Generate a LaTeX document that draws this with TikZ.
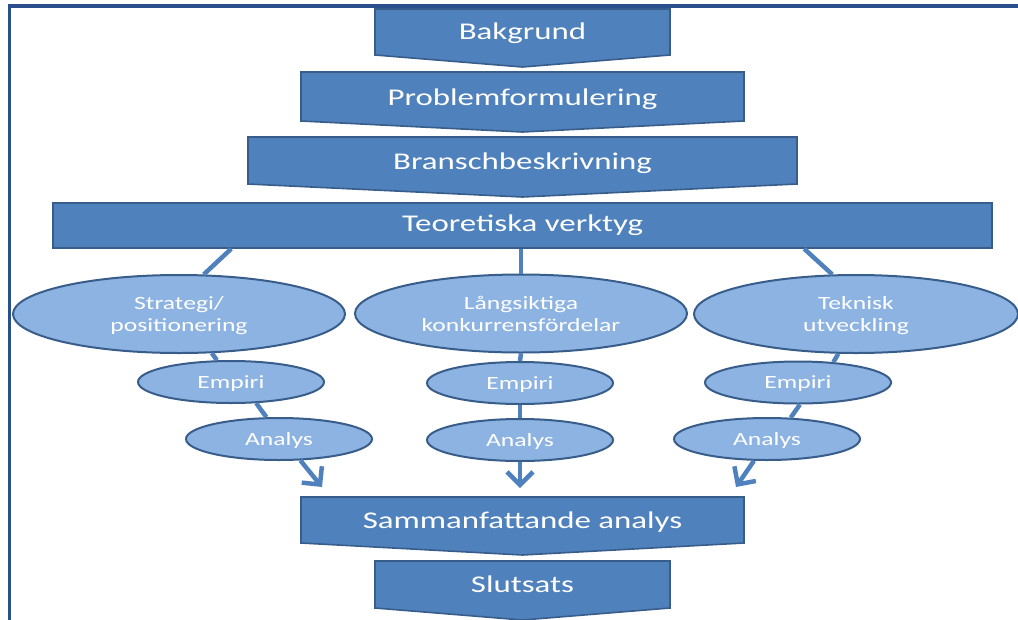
\documentclass[tikz,border=0pt]{standalone}
\usepackage{fontspec}
\setmainfont{Carlito}[FakeStretch=1.37]
\usetikzlibrary{arrows.meta,shapes.geometric}

\definecolor{boxfill}{HTML}{4F81BD}
\definecolor{boxedge}{HTML}{385D8A}
\definecolor{ovalfill}{HTML}{8DB3E2}
\definecolor{ovaledge}{HTML}{385D8A}
\definecolor{framecol}{HTML}{2A4F8C}

% chevron box: name, left x, right x, top y, side bottom y, tip y, text baseline y, text
\newcommand{\chevbox}[8]{%
  \filldraw[chevshape] (#2,#4) -- (#3,#4) -- (#3,#5) -- ({(#2+#3)/2},#6) -- (#2,#5) -- cycle;
  \node[boxtext,anchor=base] (#1) at ({(#2+#3)/2},#7) {#8};
}

\begin{document}
\begin{tikzpicture}[x=1pt,y=-1pt,
  chevshape/.style={fill=boxfill,draw=boxedge,line width=1.6pt,line join=miter},
  boxtext/.style={text=white,font=\fontsize{24}{28}\selectfont,inner sep=0pt},
  barbox/.style={rectangle,fill=boxfill,draw=boxedge,line width=1.6pt,
    text=white,font=\fontsize{24}{28}\selectfont,inner sep=0pt},
  oval/.style={ellipse,fill=ovalfill,draw=ovaledge,line width=2pt,text=white,
    font=\fontsize{18.7}{22}\selectfont,align=center,inner sep=0pt,text depth=0pt},
  bigoval/.style={oval,minimum width=332pt,minimum height=78pt},
  smalloval/.style={oval,minimum width=186pt,minimum height=42pt},
  link/.style={draw=boxfill,line width=4.5pt},
  arrowlink/.style={link,-{Straight Barb[length=13pt,width=26pt]}},
]
\useasboundingbox (0,0) rectangle (1018,619);

% page frame
\draw[framecol,line width=3.2pt] (9.5,630) -- (9.5,6) -- (1030,6);

% stacked steps at the top
\chevbox{bak}{375}{670}{9}{55}{67}{39}{Bakgrund}
\chevbox{prob}{301}{744}{72}{121}{132}{105}{Problemformulering}
\chevbox{bransch}{248}{797}{137}{184}{197}{169}{Branschbeskrivning}

\node[barbox,minimum width=939pt,minimum height=45pt] (teo) at (522.5,225.5) {Teoretiska verktyg};

% theory areas
\node[bigoval] (strat) at (179,314) {Strategi/\\positionering};
\node[bigoval] (lang) at (521,313.5) {Långsiktiga\\konkurrensfördelar};
\node[bigoval,minimum width=324pt] (tek) at (856,314) {Teknisk\\utveckling};

\node[smalloval] (emp1) at (231,382) {Empiri};
\node[smalloval] (emp2) at (520,383) {Empiri};
\node[smalloval] (emp3) at (798,382.5) {Empiri};

\node[smalloval] (ana1) at (279,439) {Analys};
\node[smalloval] (ana2) at (520,440) {Analys};
\node[smalloval] (ana3) at (767,439) {Analys};

% links from the theory bar
\draw[link] ([xshift=179pt]teo.south west) -- (strat.58);
\draw[link] (teo.south -| lang.north) -- (lang.north);
\draw[link] ([xshift=752pt]teo.south west) -- (tek.121);

% links down each branch
\draw[link] (strat.-50) -- (emp1.123);
\draw[link] (emp1.-40) -- (ana1.120);
\draw[link] (lang.south) -- (emp2.north);
\draw[link] (emp2.south) -- (ana2.north);
\draw[link] (tek.-114) -- (emp3.30);
\draw[link] (emp3.-85) -- (ana3.42);

% arrows into the summary
\coordinate (tip1) at (322,487);
\coordinate (tip2) at (520,488);
\coordinate (tip3) at (736,487);
\draw[arrowlink] (ana1.-45) -- (tip1);
\draw[arrowlink] (ana2.south) -- (tip2);
\draw[arrowlink] (ana3.-121) -- (tip3);

% closing steps
\chevbox{samman}{301}{744}{497}{543}{555}{528}{Sammanfattande analys}
\chevbox{slut}{375}{670}{561}{608}{620}{592}{Slutsats}
\end{tikzpicture}
\end{document}
